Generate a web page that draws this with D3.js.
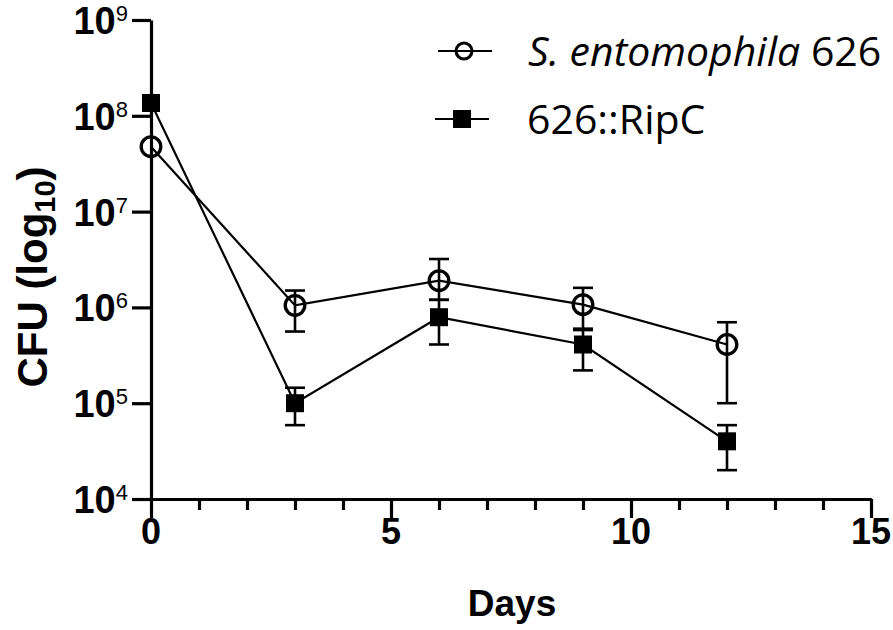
<!DOCTYPE html>
<html>
<head>
<meta charset="utf-8">
<script src="https://cdn.jsdelivr.net/npm/d3@7"></script>
<style>
  html, body { margin: 0; padding: 0; background: #fff; }
  svg { display: block; }
</style>
</head>
<body>
<svg id="chart" width="893" height="630"></svg>
<script>
// ---- data ----
const days = [0, 3, 6, 9, 12];
const seriesNames = ["S. entomophila", "626::RipC"];
const wtMean  = [4.76e7, 1.05e6, 1.9e6, 1.07e6, 4.1e5];
const wtUpper = [null, 1.5e6, 3.2e6, 1.6e6, 7.0e5];
const wtLower = [null, 5.6e5, 1.2e6, 6.0e5, 1.0e5];
const ripMean  = [1.36e8, 1.0e5, 7.9e5, 4.1e5, 4.0e4];
const ripUpper = [null, 1.45e5, 1.2e6, 5.8e5, 5.9e4];
const ripLower = [null, 5.9e4, 4.1e5, 2.2e5, 2.0e4];
const xTicksMajor = [0, 5, 10, 15];
const xTicksMinor = d3.range(0, 16);
const yTickExponents = [4, 5, 6, 7, 8, 9];

const svg = d3.select("#chart");
const x = d3.scaleLinear().domain([0, 15]).range([151, 871]);
const y = d3.scaleLog().domain([1e4, 1e9]).range([499, 20]);

const AX = 3.2;
const FONT = "Liberation Sans, Arial, sans-serif";

// minor x ticks
const gx = svg.append("g").attr("transform", "translate(0,499)");
gx.call(d3.axisBottom(x).tickValues(xTicksMinor.filter(d => d % 5 !== 0)).tickSize(11).tickSizeOuter(0).tickFormat(""));
// major x ticks
const gx2 = svg.append("g").attr("transform", "translate(0,499)");
gx2.call(d3.axisBottom(x).tickValues(xTicksMajor).tickSize(19).tickSizeOuter(0).tickFormat(""));
[gx, gx2].forEach(g => {
  g.selectAll("path.domain").attr("stroke", "#000").attr("stroke-width", AX);
  g.selectAll(".tick line").attr("stroke", "#000").attr("stroke-width", AX);
});
// x tick labels
svg.append("g").selectAll("text").data(xTicksMajor).join("text")
  .attr("x", d => x(d)).attr("y", 544)
  .attr("text-anchor", "middle")
  .attr("font-family", FONT)
  .attr("font-weight", "bold").attr("font-size", 36)
  .text(d => d);

// y axis
const gy = svg.append("g").attr("transform", "translate(151,0)");
gy.call(d3.axisLeft(y).tickValues(yTickExponents.map(e => Math.pow(10, e))).tickSize(19).tickSizeOuter(0).tickFormat(""));
gy.selectAll("path.domain").attr("stroke", "#000").attr("stroke-width", AX);
gy.selectAll(".tick line").attr("stroke", "#000").attr("stroke-width", AX);
// y tick labels 10^n
const yl = svg.append("g").selectAll("text").data(yTickExponents).join("text")
  .attr("x", 128).attr("y", e => y(Math.pow(10, e)) + 14)
  .attr("text-anchor", "end")
  .attr("font-family", FONT)
  .attr("font-weight", "bold").attr("font-size", 38);
yl.append("tspan").text("10");
yl.append("tspan").attr("dy", -13).attr("font-size", 22).attr("font-weight", "normal").text(e => e);

// axis titles
svg.append("text")
  .attr("x", 512).attr("y", 616)
  .attr("text-anchor", "middle")
  .attr("font-family", FONT)
  .attr("font-weight", "bold").attr("font-size", 37)
  .text("Days");
const yt = svg.append("text")
  .attr("transform", "translate(47,277) rotate(-90)")
  .attr("text-anchor", "middle")
  .attr("font-family", FONT)
  .attr("font-weight", "bold").attr("font-size", 42);
yt.append("tspan").text("CFU (log");
yt.append("tspan").attr("dy", 8).attr("font-size", 29).text("10");
yt.append("tspan").attr("dy", -8).text(")");

// ---- series ----
const line = d3.line().x(d => x(d.day)).y(d => y(d.v));
function mk(mean, up, lo) {
  return days.map((d, i) => ({ day: d, v: mean[i], up: up[i], lo: lo[i] }));
}
const wt = mk(wtMean, wtUpper, wtLower);
const rip = mk(ripMean, ripUpper, ripLower);

function drawErr(data) {
  const g = svg.append("g").attr("stroke", "#000").attr("stroke-width", 2.6);
  data.filter(d => d.up != null).forEach(d => {
    g.append("line").attr("x1", x(d.day)).attr("x2", x(d.day)).attr("y1", y(d.up)).attr("y2", y(d.lo));
    g.append("line").attr("x1", x(d.day) - 10).attr("x2", x(d.day) + 10).attr("y1", y(d.up)).attr("y2", y(d.up));
    g.append("line").attr("x1", x(d.day) - 10).attr("x2", x(d.day) + 10).attr("y1", y(d.lo)).attr("y2", y(d.lo));
  });
}
drawErr(wt);
drawErr(rip);

svg.append("path").datum(wt).attr("d", line).attr("fill", "none").attr("stroke", "#000").attr("stroke-width", 2.2);
svg.append("path").datum(rip).attr("d", line).attr("fill", "none").attr("stroke", "#000").attr("stroke-width", 2.2);

svg.append("g").selectAll("circle").data(wt).join("circle")
  .attr("cx", d => x(d.day)).attr("cy", d => y(d.v)).attr("r", 9.8)
  .attr("fill", "none").attr("stroke", "#000").attr("stroke-width", 3.3);
const SQ = 18;
svg.append("g").selectAll("rect").data(rip).join("rect")
  .attr("x", d => x(d.day) - SQ / 2).attr("y", d => y(d.v) - SQ / 2)
  .attr("width", SQ).attr("height", SQ).attr("fill", "#000");

// ---- legend ----
const lg = svg.append("g");
lg.append("line").attr("x1", 438).attr("x2", 492).attr("y1", 51).attr("y2", 51).attr("stroke", "#000").attr("stroke-width", 2.2);
lg.append("circle").attr("cx", 464).attr("cy", 51).attr("r", 8).attr("fill", "none").attr("stroke", "#000").attr("stroke-width", 3);
lg.append("line").attr("x1", 435).attr("x2", 489).attr("y1", 119).attr("y2", 119).attr("stroke", "#000").attr("stroke-width", 2.2);
lg.append("rect").attr("x", 462 - 9).attr("y", 119 - 9).attr("width", 18).attr("height", 18).attr("fill", "#000");

const t1 = lg.append("text").attr("x", 528).attr("y", 66)
  .attr("font-family", "Open Sans, Noto Sans, sans-serif").attr("font-size", 41);
t1.append("tspan").attr("font-style", "italic").text(seriesNames[0]);
t1.append("tspan").text(" 626");
lg.append("text").attr("x", 527).attr("y", 134)
  .attr("font-family", "Open Sans, Noto Sans, sans-serif").attr("font-size", 41)
  .text(seriesNames[1]);
</script>
</body>
</html>
